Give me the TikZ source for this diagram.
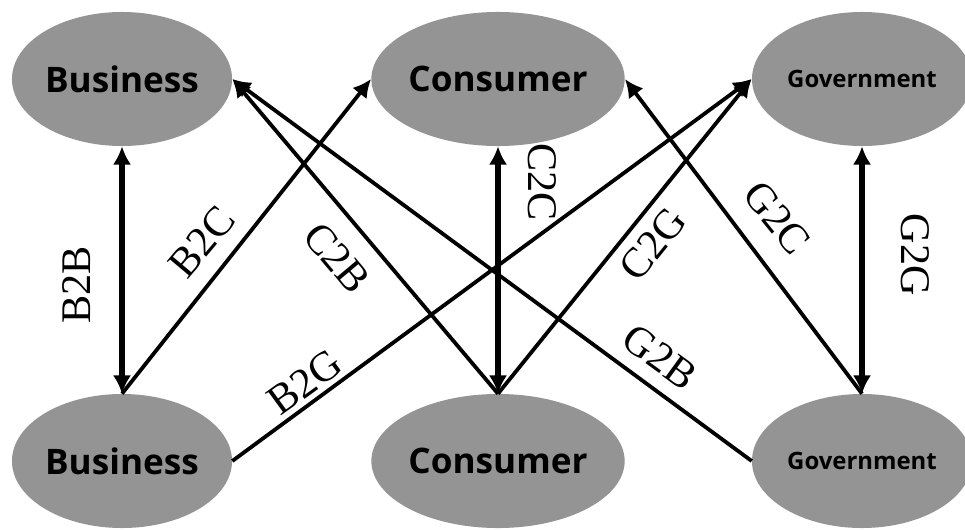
\documentclass[tikz,border=0pt]{standalone}
\usepackage{fontspec}
\setmainfont{Liberation Serif}
\newfontfamily\partyfont{Open Sans}
\usepackage{tikz}
\usetikzlibrary{shapes,arrows.meta}
\tikzset{>={Latex[length=13pt,width=13pt]}}

\begin{document}
\begin{tikzpicture}[x=0.025cm,y=0.025cm,
  party/.style={ellipse, fill=black!42, minimum width=5.5cm, minimum height=3.35cm,
    inner sep=0pt, font=\partyfont\bfseries\fontsize{25}{30}\selectfont},
  govt/.style={party, font=\partyfont\bfseries\fontsize{17}{20}\selectfont},
  link/.style={line width=2.7pt},
  pair/.style={<->, line width=3.6pt},
  tag/.style={inner sep=0pt, font=\fontsize{30}{36}\selectfont}]

\useasboundingbox (0,0) rectangle (965,529);

% Top row
\node[party] (btop) at (122,450) {Business};
\node[party] (ctop) at (498,450) {Consumer};
\node[govt] (gtop) at (862,450) {Government};

% Bottom row
\node[party] (bbot) at (122,68) {Business};
\node[party] (cbot) at (498,68) {Consumer};
\node[govt] (gbot) at (862,68) {Government};

% Same kind
\draw[pair] (btop.south) -- (bbot.north);
\draw[pair] (ctop.south) -- (cbot.north);
\draw[pair] (gtop.south) -- (gbot.north);

% Across
\draw[link,->] (bbot.north) -- (ctop.west);
\draw[link,->] (cbot.north) -- (btop.east);
\draw[link,->] (bbot.east) -- (gtop.west);
\draw[link,->] (cbot.north) -- (gtop.west);
\draw[link,->] (gbot.north) -- (ctop.east);
\draw[link,->] (gbot.west) -- (btop.east);

% Labels
\node[tag, rotate=90] (lbb) at (77,244) {B2B};
\node[tag, rotate=50] (lbc) at (202,287) {B2C};
\node[tag, rotate=-50] (lcb) at (337,271) {C2B};
\node[tag, rotate=36] (lbg) at (305,147) {B2G};
\node[tag, rotate=-90] (lcc) at (542,347) {C2C};
\node[tag, rotate=51] (lcg) at (653,285) {C2G};
\node[tag, rotate=-51] (lgc) at (777,311) {G2C};
\node[tag, rotate=-36] (lgb) at (660,172) {G2B};
\node[tag, rotate=-90] (lgg) at (915,274) {G2G};

\end{tikzpicture}
\end{document}
